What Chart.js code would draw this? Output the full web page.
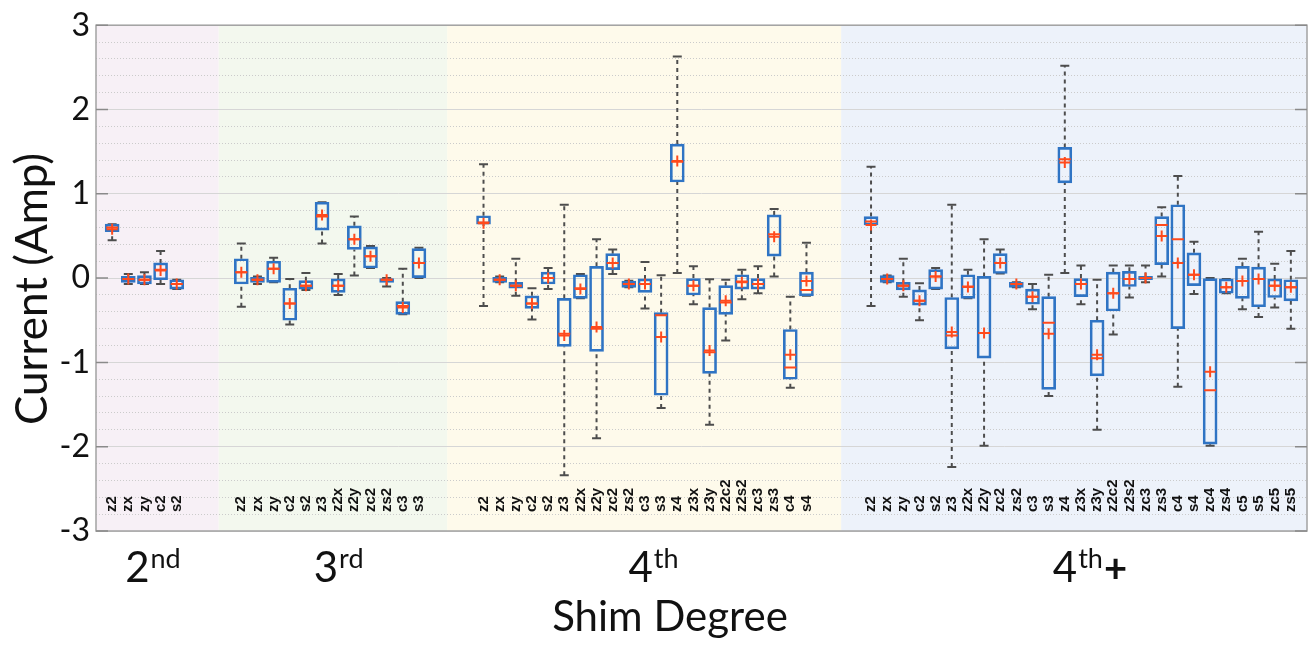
<!DOCTYPE html>
<html lang="en">
<head>
<meta charset="UTF-8">
<title>Shim currents by degree</title>
<style>
  body { margin: 0; background: #fff; }
  #wrap { width: 1315px; height: 645px; }
</style>
</head>
<body>
<div id="wrap"><canvas id="myChart"></canvas></div>

<script src="https://cdn.jsdelivr.net/npm/chart.js"></script>
<script>
// shim degree groups and the terms in each one
var groupNames = ['2nd', '3rd', '4th', '4th+'];
var terms2nd = ['z2', 'zx', 'zy', 'c2', 's2'];
var terms3rd = ['z2', 'zx', 'zy', 'c2', 's2', 'z3', 'z2x', 'z2y', 'zc2', 'zs2', 'c3', 's3'];
var terms4th = ['z2', 'zx', 'zy', 'c2', 's2', 'z3', 'z2x', 'z2y', 'zc2', 'zs2', 'c3', 's3',
    'z4', 'z3x', 'z3y', 'z2c2', 'z2s2', 'zc3', 'zs3', 'c4', 's4'];
var terms4thPlus = ['z2', 'zx', 'zy', 'c2', 's2', 'z3', 'z2x', 'z2y', 'zc2', 'zs2', 'c3', 's3',
    'z4', 'z3x', 'z3y', 'z2c2', 'z2s2', 'zc3', 'zs3', 'c4', 's4', 'zc4', 'zs4', 'c5', 's5', 'zc5', 'zs5'];
var groupTerms = [terms2nd, terms3rd, terms4th, terms4thPlus];

// box plot statistics (Amp), one entry per term, groups in order
var whiskerLow = [
    0.45, -0.07, -0.07, -0.07, -0.13,
    -0.34, -0.07, -0.05, -0.55, -0.14, 0.41, -0.20, 0.03, 0.12, -0.10, -0.43, 0.00,
    -0.33, -0.05, -0.21, -0.49, -0.13, -2.34, -0.24, -1.90, 0.05, -0.11, -0.36, -1.54,
    0.06, -0.31, -1.74, -0.74, -0.25, -0.18, 0.02, -1.30, -0.21,
    -0.33, -0.05, -0.22, -0.50, -0.13, -2.24, -0.24, -1.99, 0.055, -0.11, -0.37, -1.40,
    0.06, -0.31, -1.80, -0.67, -0.23, -0.05, 0.02, -1.29, -0.19, -1.99, -0.18, -0.37, -0.46, -0.35, -0.60
];
var boxLow = [
    0.55, -0.05, -0.07, -0.02, -0.13,
    -0.07, -0.05, -0.05, -0.50, -0.13, 0.57, -0.17, 0.34, 0.12, -0.05, -0.43, 0.00,
    0.64, -0.05, -0.12, -0.36, -0.07, -0.81, -0.24, -0.87, 0.10, -0.11, -0.17, -1.39,
    1.14, -0.20, -1.13, -0.43, -0.13, -0.13, 0.26, -1.20, -0.21,
    0.63, -0.05, -0.14, -0.32, -0.13, -0.84, -0.24, -0.95, 0.055, -0.11, -0.31, -1.32,
    1.13, -0.22, -1.16, -0.39, -0.10, -0.02, 0.16, -0.60, -0.09, -1.97, -0.18, -0.24, -0.34, -0.23, -0.27
];
var median = [
    0.60, -0.01, -0.02, 0.10, -0.07,
    0.07, -0.02, 0.11, -0.30, -0.09, 0.73, -0.09, 0.46, 0.26, -0.02, -0.33, 0.18,
    0.66, -0.02, -0.09, -0.30, 0.00, -0.66, -0.12, -0.60, 0.18, -0.07, -0.07, -0.44,
    1.38, -0.09, -0.88, -0.29, -0.04, -0.07, 0.52, -1.06, -0.14,
    0.67, -0.01, -0.09, -0.27, 0.02, -0.68, -0.10, -0.65, 0.18, -0.07, -0.22, -0.53,
    1.41, -0.07, -0.95, -0.18, -0.01, 0.00, 0.63, 0.46, 0.04, -1.33, -0.11, -0.035, -0.01, -0.09, -0.11
];
var boxHigh = [
    0.64, 0.02, 0.03, 0.18, -0.02,
    0.23, 0.01, 0.20, -0.12, -0.03, 0.90, -0.01, 0.62, 0.37, 0.00, -0.28, 0.35,
    0.74, 0.01, -0.05, -0.21, 0.07, -0.24, 0.04, 0.14, 0.29, -0.035, -0.01, -0.41,
    1.59, 0.00, -0.35, -0.09, 0.04, 0.00, 0.75, -0.61, 0.07,
    0.73, 0.03, -0.05, -0.14, 0.10, -0.23, 0.04, 0.02, 0.29, -0.05, -0.13, -0.22,
    1.55, 0.00, -0.50, 0.07, 0.08, 0.02, 0.73, 0.87, 0.30, 0.00, -0.01, 0.14, 0.13, -0.01, -0.02
];
var whiskerHigh = [
    0.64, 0.05, 0.07, 0.32, -0.02,
    0.41, 0.02, 0.24, -0.01, 0.06, 0.90, 0.05, 0.73, 0.38, 0.00, 0.11, 0.36,
    1.35, 0.02, 0.23, -0.12, 0.12, 0.87, 0.05, 0.46, 0.34, -0.03, 0.19, 0.035,
    2.63, 0.14, -0.015, -0.02, 0.10, 0.14, 0.82, -0.22, 0.42,
    1.32, 0.03, 0.23, -0.06, 0.12, 0.87, 0.10, 0.46, 0.34, -0.05, -0.07, 0.04,
    2.52, 0.15, -0.02, 0.15, 0.15, 0.15, 0.84, 1.21, 0.43, 0.00, -0.01, 0.23, 0.55, 0.17, 0.32
];
var mean = [
    0.58, -0.01, -0.02, 0.09, -0.07,
    0.07, -0.02, 0.11, -0.30, -0.09, 0.75, -0.09, 0.46, 0.26, -0.02, -0.35, 0.18,
    0.65, -0.02, -0.09, -0.30, 0.00, -0.68, -0.13, -0.58, 0.18, -0.07, -0.07, -0.70,
    1.39, -0.09, -0.86, -0.27, -0.05, -0.07, 0.49, -0.91, -0.035,
    0.63, -0.01, -0.09, -0.27, 0.02, -0.64, -0.105, -0.65, 0.18, -0.07, -0.22, -0.66,
    1.37, -0.07, -0.91, -0.18, -0.01, 0.00, 0.50, 0.18, 0.04, -1.11, -0.11, -0.035, -0.01, -0.09, -0.11
];

var yTicks = [-3, -2, -1, 0, 1, 2, 3];

// shaded background per group, edges in box-slot units
var bandEdges = [0, 7.6, 21.75, 46.15, 75];
var bandColors = ['#f7f0f6', '#f3f8ee', '#fefaeb', '#edf2fa'];

var BLUE = '#2f74c4';
var RED = '#ff4a1c';
var GREY = '#4d4d4d';

// one slot per box, three empty slots between groups
var slots = [];
var termLabels = [];
var groupCenter = [];
var pos = 1;
for (var g = 0; g < groupTerms.length; g++) {
    var first = pos;
    for (var i = 0; i < groupTerms[g].length; i++) {
        slots.push(pos);
        termLabels.push(groupTerms[g][i]);
        pos++;
    }
    groupCenter.push((first + pos - 1) / 2);
    pos += 3;
}
var xMax = pos - 3;

var boxes = [], whiskers = [], caps = [], medians = [], means = [];
for (var k = 0; k < slots.length; k++) {
    var x = slots[k];
    boxes.push({ x: x, y: [boxLow[k], boxHigh[k]] });
    whiskers.push({ x: x, y: boxHigh[k] }, { x: x, y: whiskerHigh[k] }, { x: x, y: null },
        { x: x, y: whiskerLow[k] }, { x: x, y: boxLow[k] }, { x: x, y: null });
    caps.push({ x: x, y: whiskerLow[k] }, { x: x, y: whiskerHigh[k] });
    medians.push({ x: x, y: median[k] });
    means.push({ x: x, y: mean[k] });
}

function isWhole(v) {
    return yTicks.indexOf(Math.round(v)) >= 0 && Math.abs(v - Math.round(v)) < 1e-6;
}

function drawGroupLabel(ctx, text, cx, baseline) {
    var m = text.match(/^(\d+)([a-z]+)(.*)$/);
    var fMain = '42px Lato', fSup = '27px Lato', fExtra = 'bold 40px Lato';
    ctx.font = fMain; var w1 = ctx.measureText(m[1]).width;
    ctx.font = fSup; var w2 = ctx.measureText(m[2]).width;
    ctx.font = fExtra; var w3 = m[3] ? ctx.measureText(m[3]).width : 0;
    var x0 = cx - (w1 + w2 + w3) / 2;
    ctx.textAlign = 'left';
    ctx.textBaseline = 'alphabetic';
    ctx.font = fMain; ctx.fillText(m[1], x0, baseline);
    ctx.font = fSup; ctx.fillText(m[2], x0 + w1 + 1, baseline - 14);
    if (m[3]) { ctx.font = fExtra; ctx.fillText(m[3], x0 + w1 + w2 + 2, baseline); }
}

var decor = {
    id: 'decor',
    beforeDraw: function (chart) {
        var ctx = chart.ctx, a = chart.chartArea, xs = chart.scales.x;
        ctx.save();
        for (var b = 0; b < bandColors.length; b++) {
            var x0 = xs.getPixelForValue(bandEdges[b]);
            var x1 = xs.getPixelForValue(bandEdges[b + 1]);
            ctx.fillStyle = bandColors[b];
            ctx.fillRect(x0, a.top, x1 - x0, a.bottom - a.top);
        }
        ctx.restore();
    },
    afterDraw: function (chart) {
        var ctx = chart.ctx, a = chart.chartArea, xs = chart.scales.x, ys = chart.scales.y;
        ctx.save();

        // frame and inside tick marks
        ctx.strokeStyle = '#a2a2a2';
        ctx.lineWidth = 1.5;
        ctx.strokeRect(a.left, a.top, a.right - a.left, a.bottom - a.top);
        ctx.strokeStyle = '#8a8a8a';
        ctx.beginPath();
        for (var t = 0; t < yTicks.length; t++) {
            var py = ys.getPixelForValue(yTicks[t]);
            ctx.moveTo(a.left, py); ctx.lineTo(a.left + 12, py);
            ctx.moveTo(a.right - 12, py); ctx.lineTo(a.right, py);
        }
        ctx.stroke();

        // term names, rotated, near the bottom of the plot
        ctx.fillStyle = '#111';
        ctx.font = 'bold 15px "Liberation Sans"';
        ctx.textAlign = 'left';
        ctx.textBaseline = 'middle';
        for (var k = 0; k < slots.length; k++) {
            ctx.save();
            ctx.translate(xs.getPixelForValue(slots[k]), a.bottom - 19);
            ctx.rotate(-Math.PI / 2);
            ctx.fillText(termLabels[k], 0, 0);
            ctx.restore();
        }

        // group names under the axis
        for (var g = 0; g < groupNames.length; g++) {
            drawGroupLabel(ctx, groupNames[g], xs.getPixelForValue(groupCenter[g]) + 8, a.bottom + 51);
        }

        // axis titles
        ctx.font = '42px Lato';
        ctx.textAlign = 'center';
        ctx.textBaseline = 'alphabetic';
        ctx.fillText('Shim Degree', 670, a.bottom + 100);

        ctx.font = '44px Lato';
        ctx.translate(47, 289);
        ctx.rotate(-Math.PI / 2);
        ctx.fillText('Current (Amp)', 0, 0);
        ctx.restore();
    }
};

var ctx = document.getElementById('myChart').getContext('2d');

new Chart(ctx, {
    type: 'bar',
    data: {
        datasets: [
            {
                type: 'scatter', label: 'Mean', data: means, order: 0,
                pointStyle: 'cross', pointRadius: 5.5, pointBorderWidth: 2,
                borderColor: RED, pointBorderColor: RED
            },
            {
                type: 'scatter', label: 'Median', data: medians, order: 1,
                pointStyle: 'line', pointRadius: 6, pointBorderWidth: 2,
                borderColor: RED, pointBorderColor: RED
            },
            {
                type: 'bar', label: 'Box', data: boxes, order: 2,
                borderColor: BLUE, backgroundColor: 'rgba(0,0,0,0)',
                borderWidth: 2, borderSkipped: false, barThickness: 14
            },
            {
                type: 'scatter', label: 'Caps', data: caps, order: 3,
                pointStyle: 'line', pointRadius: 4.5, pointBorderWidth: 2,
                borderColor: GREY, pointBorderColor: GREY
            },
            {
                type: 'line', label: 'Whiskers', data: whiskers, order: 4,
                borderColor: GREY, borderWidth: 2, borderDash: [4, 4],
                pointRadius: 0, fill: false
            }
        ]
    },
    options: {
        responsive: true,
        maintainAspectRatio: false,
        animation: false,
        events: [],
        layout: { padding: { top: 20, right: 2, left: 0, bottom: 0 } },
        plugins: {
            legend: { display: false },
            tooltip: { enabled: false }
        },
        scales: {
            x: {
                type: 'linear',
                min: 0,
                max: xMax,
                offset: false,
                grid: { display: false },
                border: { display: false },
                ticks: { display: false },
                afterFit: function (s) { s.height = 114; }
            },
            y: {
                min: -3,
                max: 3,
                afterFit: function (s) { s.width = 96; },
                ticks: {
                    stepSize: 0.2,
                    autoSkip: false,
                    padding: 6,
                    color: '#111',
                    font: { family: 'Lato', size: 32 },
                    callback: function (v) { return isWhole(v) ? String(Math.round(v)) : ''; }
                },
                grid: {
                    drawTicks: false,
                    color: function (c) { return isWhole(c.tick.value) ? '#d6d6d6' : '#cbcbcb'; }
                },
                border: {
                    display: false,
                    dash: function (c) { return isWhole(c.tick.value) ? [] : [1, 2]; }
                }
            }
        }
    },
    plugins: [decor]
});
</script>
</body>
</html>
